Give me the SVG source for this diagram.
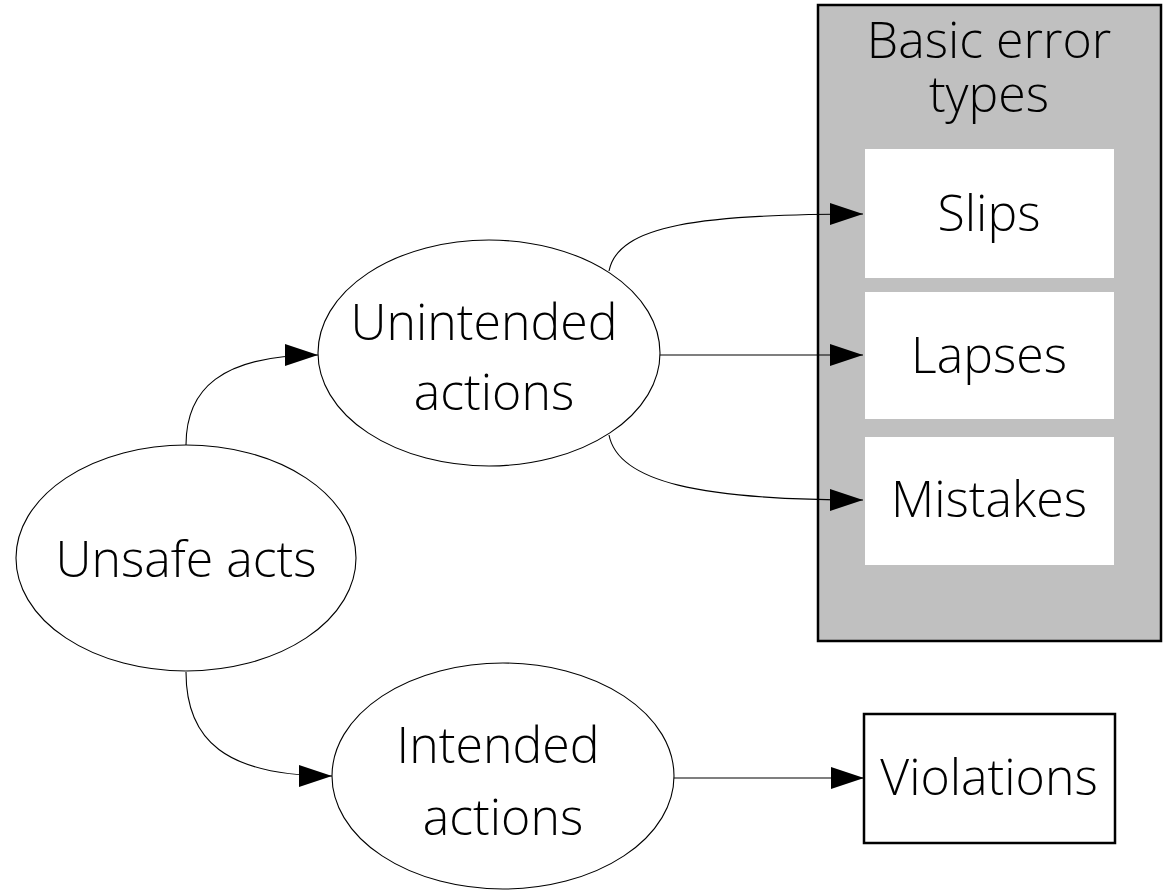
<svg xmlns="http://www.w3.org/2000/svg" width="1166" height="892" viewBox="0 0 1166 892">
  <style>
    .lbl { font-family: "Open Sans", "Liberation Sans", sans-serif; font-weight: 300; font-size: 50px; fill: #000; text-anchor: middle; }
    .oval { fill: #fff; stroke: #000; stroke-width: 1.1; }
    .edge { fill: none; stroke: #000; stroke-width: 1.1; marker-end: url(#head); }
    .panel { fill: #c0c0c0; stroke: #000; stroke-width: 2.5; }
    .cell { fill: #fff; stroke: none; }
    .box { fill: #fff; stroke: #000; stroke-width: 2.5; }
  </style>
  <defs>
    <marker id="head" markerUnits="userSpaceOnUse" markerWidth="34" markerHeight="24" refX="33" refY="11" orient="auto">
      <path d="M0,0 L33,11 L0,22 Z" fill="#000"/>
    </marker>
  </defs>

  <rect width="1166" height="892" fill="#fff"/>

  <!-- cluster of basic error types -->
  <g id="error-types">
    <rect class="panel" x="818" y="5" width="343" height="636"/>
    <text class="lbl"><tspan x="989" y="58">Basic error</tspan><tspan x="989" y="112">types</tspan></text>
  </g>

  <g id="slips">
    <rect class="cell" x="865" y="149" width="249" height="129"/>
    <text class="lbl" x="989" y="231">Slips</text>
  </g>

  <g id="lapses">
    <rect class="cell" x="865" y="292" width="249" height="127"/>
    <text class="lbl" x="989" y="373">Lapses</text>
  </g>

  <g id="mistakes">
    <rect class="cell" x="865" y="437" width="249" height="128"/>
    <text class="lbl" x="989" y="517">Mistakes</text>
  </g>

  <g id="violations">
    <rect class="box" x="864" y="714" width="251" height="129"/>
    <text class="lbl" x="989" y="795">Violations</text>
  </g>

  <g id="unsafe-acts">
    <ellipse class="oval" cx="186" cy="558" rx="170" ry="113"/>
    <text class="lbl" x="186" y="577">Unsafe acts</text>
  </g>

  <g id="unintended-actions">
    <ellipse class="oval" cx="489" cy="353" rx="171" ry="113"/>
    <text class="lbl"><tspan x="484" y="340">Unintended</tspan><tspan x="494" y="410">actions</tspan></text>
  </g>

  <g id="intended-actions">
    <ellipse class="oval" cx="503" cy="776" rx="171" ry="113"/>
    <text class="lbl"><tspan x="498" y="763">Intended</tspan><tspan x="503" y="835">actions</tspan></text>
  </g>

  <!-- connectors -->
  <g id="edges">
    <path class="edge" d="M186,445 C186,390 220,355 318,355"/>
    <path class="edge" d="M186,672 C186,740 225,776 332,776"/>
    <path class="edge" d="M609,271 C618,225 700,214 863,214"/>
    <path class="edge" d="M660,355 L863,355"/>
    <path class="edge" d="M609,435 C618,482 700,500 863,500"/>
    <path class="edge" d="M674,778 L864,778"/>
  </g>
</svg>
